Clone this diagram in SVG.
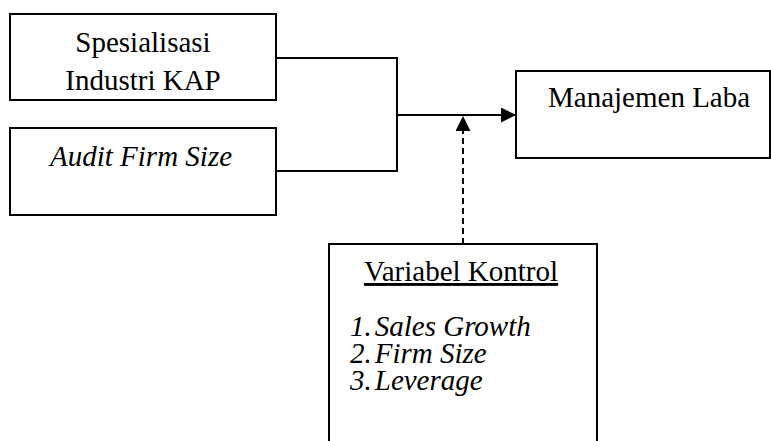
<svg xmlns="http://www.w3.org/2000/svg" width="771" height="441" viewBox="0 0 771 441">
<style>
.box{fill:#fff;stroke:#000;stroke-width:2}
text{font-family:'Liberation Serif','Times New Roman',Tinos,'DejaVu Serif',serif;font-size:29px;fill:#000}
.i{font-style:italic}
.ln{fill:none;stroke:#000;stroke-width:2}
</style>
<defs>
<marker id="ah" markerWidth="16" markerHeight="16" refX="15" refY="7.5" orient="auto" markerUnits="userSpaceOnUse">
<path d="M0,0 L15,7.5 L0,15 Z" fill="#000"/>
</marker>
</defs>
<rect width="771" height="441" fill="#fff"/>
<g id="n1">
<rect class="box" x="10" y="14" width="266" height="86"/>
<text x="143" y="52" text-anchor="middle">Spesialisasi</text>
<text x="143" y="90" text-anchor="middle">Industri KAP</text>
</g>
<g id="n2">
<rect class="box" x="10" y="128" width="266" height="87"/>
<text class="i" x="50" y="166">Audit Firm Size</text>
</g>
<g id="n3">
<rect class="box" x="516" y="71" width="254" height="87"/>
<text x="548" y="107">Manajemen Laba</text>
</g>
<g id="n4">
<rect class="box" x="329" y="244" width="268" height="210"/>
<text x="364" y="281" text-decoration="underline">Variabel Kontrol</text>
<text class="i" x="350" y="336">1.<tspan dx="3">Sales Growth</tspan></text>
<text class="i" x="350" y="363">2.<tspan dx="3">Firm Size</tspan></text>
<text class="i" x="350" y="390">3.<tspan dx="3">Leverage</tspan></text>
</g>
<g id="connectors">
<polyline class="ln" points="276,58 397,58 397,171 276,171"/>
<line class="ln" x1="397" y1="115" x2="516" y2="115" marker-end="url(#ah)"/>
<line class="ln" x1="463" y1="244" x2="463" y2="116" stroke-dasharray="6,4" marker-end="url(#ah)"/>
</g>
</svg>
